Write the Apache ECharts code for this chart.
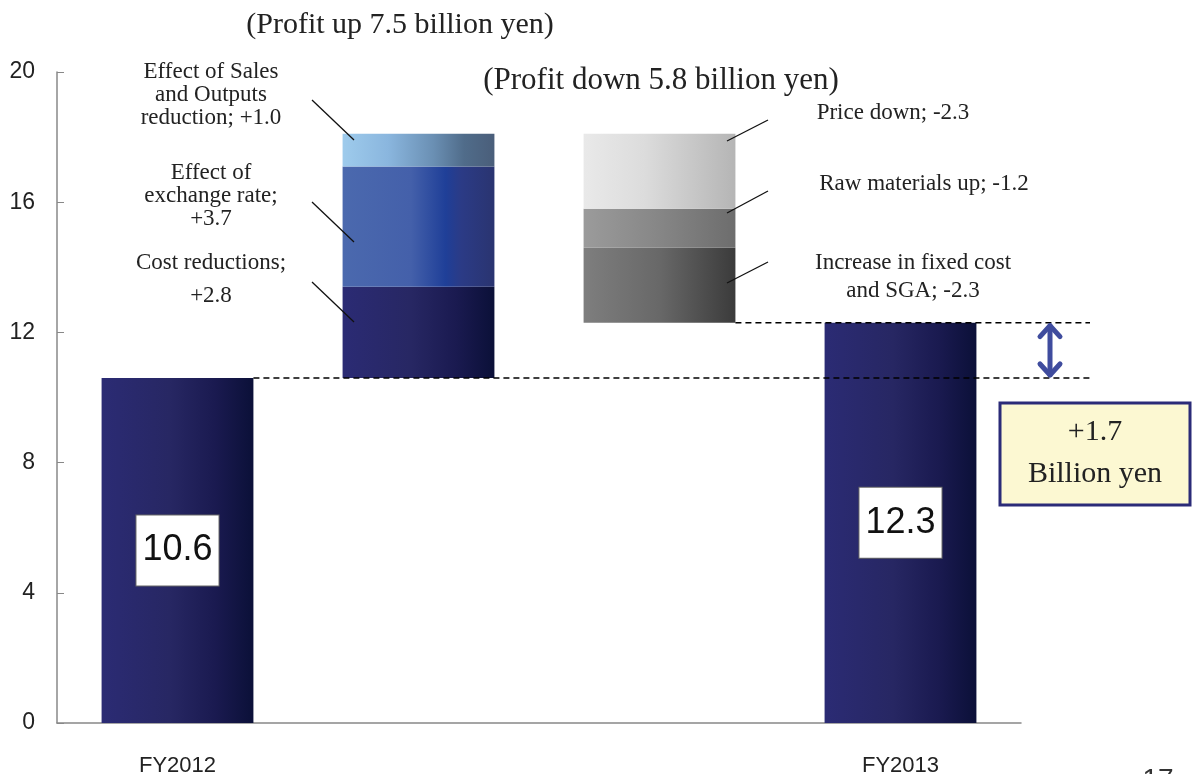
<!DOCTYPE html>
<html>
<head>
<meta charset="utf-8">
<script src="https://cdn.jsdelivr.net/npm/echarts@6/dist/echarts.min.js"></script>
<style>html,body{margin:0;padding:0;background:#fff;}#main{width:1192px;height:774px;}</style>
</head>
<body>
<div id="main"></div>
<script>
// ---- data ----
const categories = ['FY2012', '', '', 'FY2013'];
const baseValues = [0, 10.6, 12.3, 0];      // invisible floating base
const totals     = [10.6, 0, 0, 12.3];      // FY totals
const seg1 = [0, 2.8, 2.3, 0];              // Cost reductions / Fixed cost & SGA
const seg2 = [0, 3.7, 1.2, 0];              // Exchange rate / Raw materials
const seg3 = [0, 1.0, 2.3, 0];              // Sales & Outputs / Price down
const yTicks = [0, 4, 8, 12, 16, 20];
const diffLabel = ['+1.7', 'Billion yen'];
const titleUp = '(Profit up 7.5 billion yen)';
const titleDown = '(Profit down 5.8 billion yen)';

// ---- styles ----
function grad(stops) {
  return new echarts.graphic.LinearGradient(0, 0, 1, 0, stops.map(s => ({offset: s[0], color: s[1]})));
}
const navy = () => grad([[0, '#2b2b74'], [0.45, '#272763'], [0.75, '#1a1a50'], [1, '#0b1038']]);
const exch = () => grad([[0, '#4b69ae'], [0.45, '#4460aa'], [0.68, '#1f3f98'], [0.78, '#2b3b86'], [1, '#2a3470']]);
const sales = () => grad([[0, '#9ecbec'], [0.3, '#8ab6de'], [0.6, '#6a8fb3'], [0.8, '#506c8a'], [1, '#4a5e7a']]);
const price = () => grad([[0, '#e9e9e9'], [0.4, '#dcdcdc'], [1, '#b5b5b5']]);
const raw = () => grad([[0, '#9b9b9b'], [0.5, '#868686'], [1, '#6d6d6d']]);
const fixed = () => grad([[0, '#7e7e7e'], [0.5, '#686868'], [1, '#3b3b3b']]);

const seg1Colors = [null, navy(), fixed(), null];
const seg2Colors = [null, exch(), raw(), null];
const seg3Colors = [null, sales(), price(), null];

const chart = echarts.init(document.getElementById('main'), null, {renderer: 'canvas'});
const serif = '"Liberation Serif","Times New Roman",serif';
const sans = '"Liberation Sans",Arial,sans-serif';
const BW = '63%';

const option = {
  animation: false,
  backgroundColor: '#ffffff',
  grid: {left: 57, right: 171, top: 72, bottom: 51, containLabel: false, outerBoundsMode: 'none'},
  xAxis: {
    type: 'category', data: categories, boundaryGap: true,
    axisLine: {lineStyle: {color: '#888', width: 1.5}},
    axisTick: {inside: true, length: 9, interval: 0, lineStyle: {color: '#888', width: 1}},
    axisLabel: {margin: 32, fontSize: 22, fontFamily: sans, color: '#222', interval: 0}
  },
  yAxis: {
    type: 'value', min: yTicks[0], max: yTicks[yTicks.length - 1], interval: yTicks[1] - yTicks[0],
    axisLine: {show: true, lineStyle: {color: '#888', width: 1.5}},
    axisTick: {show: true, inside: true, length: 7, lineStyle: {color: '#888'}},
    axisLabel: {margin: 22, fontSize: 23, fontFamily: sans, color: '#222'},
    splitLine: {show: false}
  },
  series: [
    {type: 'bar', stack: 's', barWidth: BW, data: baseValues, itemStyle: {color: 'rgba(0,0,0,0)'}, silent: true},
    {type: 'bar', stack: 's', barWidth: BW,
      data: totals.map(v => ({value: v, itemStyle: {color: navy()}, label: {show: v > 0}})),
      label: {position: 'inside', fontSize: 36, fontFamily: sans,
        color: '#111', backgroundColor: '#fff', borderColor: '#666', borderWidth: 1, padding: [15, 6, 13, 6], lineHeight: 42}},
    {type: 'bar', stack: 's', barWidth: BW, data: seg1.map((v, i) => ({value: v, itemStyle: {color: seg1Colors[i] || 'rgba(0,0,0,0)'}}))},
    {type: 'bar', stack: 's', barWidth: BW, data: seg2.map((v, i) => ({value: v, itemStyle: {color: seg2Colors[i] || 'rgba(0,0,0,0)'}}))},
    {type: 'bar', stack: 's', barWidth: BW, data: seg3.map((v, i) => ({value: v, itemStyle: {color: seg3Colors[i] || 'rgba(0,0,0,0)'}}))}
  ]
};
chart.setOption(option);

// ---- annotations ----
const yPix = v => chart.convertToPixel({yAxisIndex: 0}, v);
const xPix = i => chart.convertToPixel({xAxisIndex: 0}, i);
const catW = xPix(1) - xPix(0);
const barHalf = catW * 0.63 / 2;
const y0 = yPix(totals[0]);
const y1 = yPix(totals[3]);
const xEnd = 1090;
const arrowX = 1050;

function txt(text, x, y, size, extra) {
  return Object.assign({type: 'text', z: 100, style: {text, x, y, fill: '#222', font: size + 'px ' + serif,
    textAlign: 'center', textVerticalAlign: 'middle'}}, extra || {});
}
function line(x1, y1_, x2, y2, style) {
  return {type: 'line', z: 100, shape: {x1, y1: y1_, x2, y2}, style: Object.assign({stroke: '#111', lineWidth: 1.3}, style || {})};
}

const graphics = [
  txt(titleUp, 400, 25, 30),
  txt(titleDown, 661, 81, 31),
  // left labels
  txt('Effect of Sales', 211, 72, 23), txt('and Outputs', 211, 95, 23), txt('reduction; +1.0', 211, 118, 23),
  txt('Effect of', 211, 173, 23), txt('exchange rate;', 211, 196, 23), txt('+3.7', 211, 219, 23),
  txt('Cost reductions;', 211, 263, 23), txt('+2.8', 211, 296, 23),
  line(312, 100, 354, 140), line(312, 202, 354, 242), line(312, 282, 354, 322),
  // right labels
  txt('Price down; -2.3', 893, 113, 23),
  txt('Raw materials up; -1.2', 924, 184, 23),
  txt('Increase in fixed cost', 913, 263, 23), txt('and SGA; -2.3', 913, 291, 23),
  line(727, 141, 768, 120), line(727, 213, 768, 191), line(727, 283, 768, 262),
  // dashed reference lines
  line(xPix(0) + barHalf, y0, xEnd, y0, {lineDash: [6, 4], lineWidth: 1.5, stroke: '#000'}),
  line(xPix(2) + barHalf, y1, xEnd, y1, {lineDash: [6, 4], lineWidth: 1.5, stroke: '#000'}),
  // double arrow
  line(arrowX, y1 + 3, arrowX, y0 - 3, {stroke: '#3f4c9e', lineWidth: 5, lineCap: 'round'}),
  {type: 'polyline', z: 101, shape: {points: [[arrowX - 10, y1 + 14], [arrowX, y1 + 3], [arrowX + 10, y1 + 14]]},
    style: {stroke: '#3f4c9e', lineWidth: 5, fill: null, lineCap: 'round', lineJoin: 'round'}},
  {type: 'polyline', z: 101, shape: {points: [[arrowX - 10, y0 - 14], [arrowX, y0 - 3], [arrowX + 10, y0 - 14]]},
    style: {stroke: '#3f4c9e', lineWidth: 5, fill: null, lineCap: 'round', lineJoin: 'round'}},
  // difference box
  {type: 'rect', z: 100, shape: {x: 1000, y: 403, width: 190, height: 102},
    style: {fill: '#fcf8d2', stroke: '#2b2b78', lineWidth: 3}},
  txt(diffLabel[0], 1095, 432, 30, {z: 101}),
  txt(diffLabel[1], 1095, 474, 30, {z: 101}),
  // page number (cut off at bottom)
  {type: 'text', z: 100, style: {text: '17', x: 1158, y: 766, fill: '#333', font: '28px ' + sans, textAlign: 'center', textVerticalAlign: 'top'}}
];
chart.setOption({graphic: graphics});
</script>
</body>
</html>
